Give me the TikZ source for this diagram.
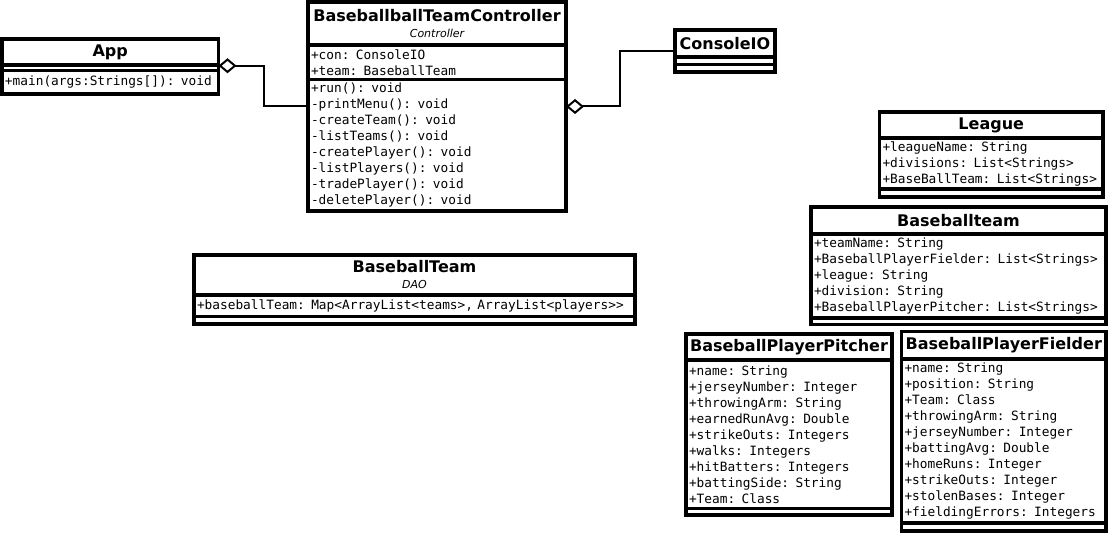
\documentclass[tikz,border=0pt]{standalone}
\usepackage{fontspec}
\setmainfont{DejaVu Sans}
\newfontfamily\umlmono{DejaVu Sans Mono}
\newcommand{\umlstereo}{\mdseries\itshape\fontsize{11}{13}\selectfont}
\usetikzlibrary{arrows.meta, positioning}

\begin{document}
\begin{tikzpicture}[x=1pt, y=-1pt,
    every node/.style={draw, line width=3.4pt, outer sep=0pt, inner ysep=0pt, anchor=north west},
    cname/.style={font=\fontsize{16}{16}\selectfont\bfseries, align=center, inner xsep=2pt},
    members/.style={font=\umlmono\fontsize{12.8}{16}\selectfont, align=left, inner xsep=3pt, text width=#1},
    blank/.style={minimum height=#1},
    agg/.style={{Diamond[open, length=18pt, width=15pt]}-, line width=2pt}
]
\useasboundingbox (0,0) rectangle (1110,534);

\node[cname, minimum width=216.5pt, minimum height=26pt] (appT) at (2,39) {App};
\node[blank=5.5pt, minimum width=216.5pt, below=0pt of appT] (appA) {};
\node[members=210.5pt, minimum height=23.5pt, below=0pt of appA] (appM) {+main(args:Strings[]): void};

\node[cname, minimum width=258pt, minimum height=43pt] (ctrlT) at (308,2)
    {BaseballballTeamController\\{\umlstereo Controller}};
\node[members=252pt, minimum height=34.5pt, below=0pt of ctrlT] (ctrlA)
    {+con: ConsoleIO\\+team: BaseballTeam};
\node[members=252pt, minimum height=131.5pt, below=0pt of ctrlA] (ctrlM)
    {+run(): void\\-printMenu(): void\\-createTeam(): void\\-listTeams(): void\\
     -createPlayer(): void\\-listPlayers(): void\\-tradePlayer(): void\\-deletePlayer(): void};

\node[cname, minimum width=100pt, minimum height=27pt] (conT) at (675,30) {ConsoleIO};
\node[blank=7.5pt, minimum width=100pt, below=0pt of conT] (conA) {};
\node[blank=7.5pt, minimum width=100pt, below=0pt of conA] (conM) {};

\node[cname, minimum width=441pt, minimum height=40pt] (daoT) at (194,255)
    {BaseballTeam\\{\umlstereo DAO}};
\node[members=435pt, minimum height=21.5pt, below=0pt of daoT] (daoA)
    {+baseballTeam: Map<ArrayList<teams>, ArrayList<players>{}>};
\node[blank=7.5pt, minimum width=441pt, below=0pt of daoA] (daoM) {};

\node[cname, minimum width=223.5pt, minimum height=26pt] (leagueT) at (879.5,112) {League};
\node[members=217.5pt, minimum height=51pt, below=0pt of leagueT] (leagueA)
    {+leagueName: String\\+divisions: List<Strings>\\+BaseBallTeam: List<Strings>};
\node[blank=8pt, minimum width=223.5pt, below=0pt of leagueA] (leagueM) {};

\node[cname, minimum width=295pt, minimum height=27pt] (teamT) at (811,207) {Baseballteam};
\node[members=289pt, minimum height=84pt, below=0pt of teamT] (teamA)
    {+teamName: String\\+BaseballPlayerFielder: List<Strings>\\+league: String\\
     +division: String\\+BaseballPlayerPitcher: List<Strings>};
\node[blank=6.5pt, minimum width=295pt, below=0pt of teamA] (teamM) {};

\node[cname, minimum width=206pt, minimum height=26pt] (pitchT) at (686,334) {BaseballPlayerPitcher};
\node[members=200pt, minimum height=148.5pt, below=0pt of pitchT] (pitchA)
    {+name: String\\+jerseyNumber: Integer\\+throwingArm: String\\+earnedRunAvg: Double\\
     +strikeOuts: Integers\\+walks: Integers\\+hitBatters: Integers\\+battingSide: String\\+Team: Class};
\node[blank=6.5pt, minimum width=206pt, below=0pt of pitchA] (pitchM) {};

\node[cname, minimum width=204.5pt, minimum height=27.5pt] (fieldT) at (901.5,331.5) {BaseballPlayerFielder};
\node[members=198.5pt, minimum height=164pt, below=0pt of fieldT] (fieldA)
    {+name: String\\+position: String\\+Team: Class\\+throwingArm: String\\+jerseyNumber: Integer\\
     +battingAvg: Double\\+homeRuns: Integer\\+strikeOuts: Integer\\+stolenBases: Integer\\+fieldingErrors: Integers};
\node[blank=8pt, minimum width=204.5pt, below=0pt of fieldA] (fieldM) {};

\draw[agg] ([yshift=2pt]appA.east) -- ++(45.5,0) |- ([yshift=-27pt]ctrlM.north west);
\draw[agg] ([yshift=-27pt]ctrlM.north east) -- ++(54,0) |- ([yshift=-8pt]conT.west);
\end{tikzpicture}
\end{document}
